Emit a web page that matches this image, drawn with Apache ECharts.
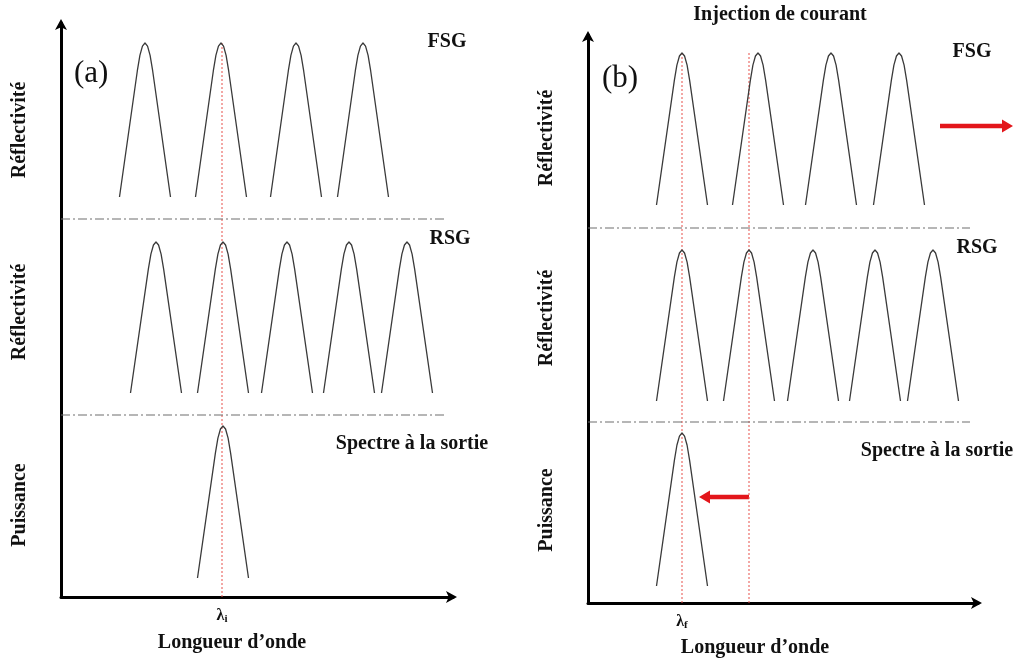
<!DOCTYPE html>
<html>
<head>
<meta charset="utf-8">
<script src="https://cdn.jsdelivr.net/npm/echarts@6/dist/echarts.min.js"></script>
<style>
html,body{margin:0;padding:0;background:#fff;}
#chart{width:1019px;height:661px;}
</style>
</head>
<body>
<div id="chart"></div>
<script>
// ---------- DATA (wavelength in arbitrary units from axis origin, level in arbitrary units) ----------
// Panel (a): before current injection
const fsgPeaksA = [84, 160, 235, 302];
const rsgPeaksA = [95, 162, 226, 288, 346];
const outPeaksA = [162];
const guideLinesA = [161];
const tickLabelsA = ['i'];
// Panel (b): after current injection
const fsgPeaksB = [94, 170, 243, 311];
const rsgPeaksB = [94, 161, 225, 287, 345];
const outPeaksB = [94];
const guideLinesB = [94, 161];
const tickLabelsB = ['f'];
// Band levels [base, apex] for FSG, RSG, output ; separators
const fsgLevelA = [400, 554], rsgLevelA = [204, 355], outLevelA = [19, 171];
const sepLevelsA = [378, 182];
const fsgLevelB = [398, 550], rsgLevelB = [202, 353], outLevelB = [17, 170];
const sepLevelsB = [375, 181];
// Peak shape (relative offsets: straight flanks, rounded top) and half-width
const peakShapeX = [-1, -0.3, -0.2, -0.1, 0, 0.1, 0.2, 0.3, 1];
const peakShapeY = [0, 0.82, 0.92, 0.98, 1, 0.98, 0.92, 0.82, 0];
const peakHalfWidth = 25.5;
// Axis extents
const axisA = {xMax: 392, yMax: 574, sepEnd: 384};
const axisB = {xMax: 390, yMax: 568, sepEnd: 382};
// Red shift arrows in panel (b): [from, to]
const shiftArrowFSG = [[352, 477], [425, 477]];
const shiftArrowOut = [[161, 106], [111, 106]];

// ---------- BUILD ----------
const FONT = '"Liberation Serif", "Times New Roman", serif';
const series = [];

function peakSeries(centers, level, gi) {
  centers.forEach(c => {
    const pts = peakShapeX.map((dx, i) => [c + dx * peakHalfWidth, level[0] + peakShapeY[i] * (level[1] - level[0])]);
    series.push({
      type: 'line', xAxisIndex: gi, yAxisIndex: gi, data: pts, smooth: false,
      symbol: 'none', silent: true, clip: false,
      lineStyle: {color: '#3a3a3a', width: 1.3, join: 'round'}
    });
  });
}
function sepSeries(levels, end, gi) {
  levels.forEach(l => series.push({
    type: 'line', xAxisIndex: gi, yAxisIndex: gi, data: [[0, l], [end, l]], symbol: 'none', silent: true,
    lineStyle: {color: '#6f6f6f', width: 1.2, type: [9, 3, 2, 3]}
  }));
}
function guideSeries(xs, top, gi) {
  xs.forEach(x => series.push({
    type: 'line', xAxisIndex: gi, yAxisIndex: gi, data: [[x, 0], [x, top]], symbol: 'none', silent: true, z: 1,
    lineStyle: {color: '#e8504a', width: 1, type: [2, 2]}
  }));
}
guideSeries(guideLinesA, fsgLevelA[1], 0);
guideSeries(guideLinesB, fsgLevelB[1], 1);
peakSeries(fsgPeaksA, fsgLevelA, 0);
peakSeries(rsgPeaksA, rsgLevelA, 0);
peakSeries(outPeaksA, outLevelA, 0);
peakSeries(fsgPeaksB, fsgLevelB, 1);
peakSeries(rsgPeaksB, rsgLevelB, 1);
peakSeries(outPeaksB, outLevelB, 1);
sepSeries(sepLevelsA, axisA.sepEnd, 0);
sepSeries(sepLevelsB, axisB.sepEnd, 1);

function xAxisCfg(gi, max, ticks, subs) {
  return {
    type: 'value', gridIndex: gi, min: 0, max: max,
    axisLine: {show: true, onZero: false, lineStyle: {color: '#000', width: 3}, symbol: ['none', 'arrow'], symbolSize: [9, 11], symbolOffset: [0, 4]},
    axisTick: {show: false}, splitLine: {show: false},
    axisLabel: {
      show: true, customValues: ticks, margin: 10,
      formatter: (v) => '{l|λ}{s|' + subs[ticks.indexOf(v)] + '}',
      rich: {
        l: {fontFamily: FONT, fontWeight: 'bold', fontSize: 16, color: '#111'},
        s: {fontFamily: FONT, fontWeight: 'bold', fontSize: 11, color: '#111', padding: [7, 0, 0, 0]}
      }
    }
  };
}
function yAxisCfg(gi, max) {
  return {
    type: 'value', gridIndex: gi, min: 0, max: max,
    axisLine: {show: true, onZero: false, lineStyle: {color: '#000', width: 3}, symbol: ['none', 'arrow'], symbolSize: [9, 11], symbolOffset: [0, 4]},
    axisTick: {show: false}, splitLine: {show: false}, axisLabel: {show: false}
  };
}

const txt = (text, x, y, size, opts) => Object.assign({
  type: 'text', x: x, y: y, silent: true,
  style: {text: text, fontFamily: FONT, fontWeight: 'bold', fontSize: size, fill: '#111', align: 'center', verticalAlign: 'middle'}
}, opts || {});
const vtxt = (text, x, y) => txt(text, x, y, 20, {rotation: Math.PI / 2});

const labels = [
  txt('Injection de courant', 780, 15, 20),
  {type: 'text', x: 74, y: 74, silent: true, style: {text: '(a)', fontFamily: FONT, fontSize: 31, fill: '#111', align: 'left', verticalAlign: 'middle'}},
  {type: 'text', x: 602, y: 79, silent: true, style: {text: '(b)', fontFamily: FONT, fontSize: 31, fill: '#111', align: 'left', verticalAlign: 'middle'}},
  txt('FSG', 447, 42, 20), txt('RSG', 450, 239, 20), txt('Spectre à la sortie', 412, 444, 20),
  txt('FSG', 972, 52, 20), txt('RSG', 977, 248, 20), txt('Spectre à la sortie', 937, 451, 20),
  vtxt('Réflectivité', 20, 130), vtxt('Réflectivité', 20, 312), vtxt('Puissance', 20, 505),
  vtxt('Réflectivité', 547, 138), vtxt('Réflectivité', 547, 318), vtxt('Puissance', 547, 510),
  txt('Longueur d’onde', 232, 643, 20), txt('Longueur d’onde', 755, 648, 20)
];

const chart = echarts.init(document.getElementById('chart'), null, {renderer: 'canvas'});
chart.setOption({
  animation: false,
  backgroundColor: '#fff',
  grid: [
    {left: 61, top: 23, width: axisA.xMax, height: axisA.yMax},
    {left: 588, top: 35, width: axisB.xMax, height: axisB.yMax}
  ],
  xAxis: [xAxisCfg(0, axisA.xMax, guideLinesA, tickLabelsA), xAxisCfg(1, axisB.xMax, [guideLinesB[0]], tickLabelsB)],
  yAxis: [yAxisCfg(0, axisA.yMax), yAxisCfg(1, axisB.yMax)],
  series: series,
  graphic: labels
});

// Red arrows drawn through panel (b)'s scales
function arrowGraphic(seg) {
  const p0 = chart.convertToPixel({gridIndex: 1}, seg[0]);
  const p1 = chart.convertToPixel({gridIndex: 1}, seg[1]);
  const dir = Math.sign(p1[0] - p0[0]);
  const headLen = 11, headHalf = 6.5;
  const bx = p1[0] - dir * headLen;
  return [
    {type: 'line', silent: true, shape: {x1: p0[0], y1: p0[1], x2: bx, y2: p1[1]}, style: {stroke: '#e3161b', lineWidth: 4.5}},
    {type: 'polygon', silent: true, shape: {points: [[p1[0], p1[1]], [bx, p1[1] - headHalf], [bx, p1[1] + headHalf]]}, style: {fill: '#e3161b'}}
  ];
}
chart.setOption({graphic: labels.concat(arrowGraphic(shiftArrowFSG), arrowGraphic(shiftArrowOut))});
</script>
</body>
</html>
